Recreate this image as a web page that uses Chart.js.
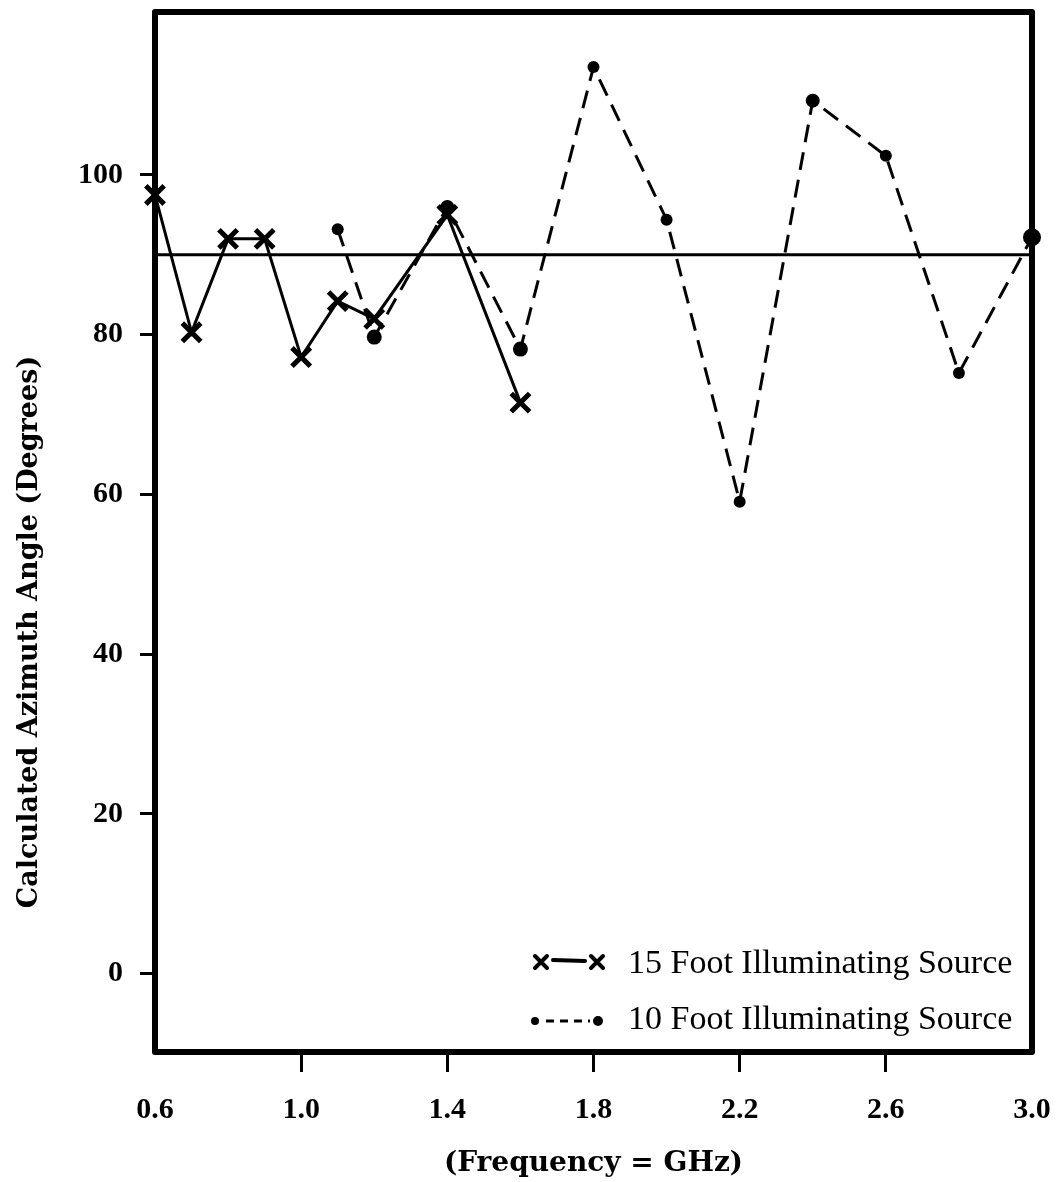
<!DOCTYPE html>
<html>
<head>
<meta charset="utf-8">
<script src="https://cdn.jsdelivr.net/npm/chart.js@4.4.0/dist/chart.umd.min.js"></script>
<style>
  html, body { margin: 0; padding: 0; background: #fff; }
  #wrap { width: 1057px; height: 1182px; }
</style>
</head>
<body>
<div id="wrap"><canvas id="chartLine" width="1057" height="1182"></canvas></div>
<script>
// frequency (GHz) and calculated azimuth angle (degrees)
const freq15 = [0.6, 0.7, 0.8, 0.9, 1.0, 1.1, 1.2, 1.4, 1.6];
const angle15 = [97.5, 80.3, 92, 92, 77.2, 84.2, 82, 95, 71.5];
const freq10 = [1.1, 1.2, 1.4, 1.6, 1.8, 2.0, 2.2, 2.4, 2.6, 2.8, 3.0];
const angle10 = [93.2, 79.7, 96, 78.2, 113.5, 94.4, 59.1, 109.3, 102.4, 75.2, 92.2];
const trueAngle = 90;
const xTicks = [0.6, 1.0, 1.4, 1.8, 2.2, 2.6, 3.0];
const yTicks = [0, 20, 40, 60, 80, 100];
const seriesNames = ['15 Foot Illuminating Source', '10 Foot Illuminating Source'];
const yTitle = 'Calculated Azimuth Angle (Degrees)';
const xTitle = '(Frequency = GHz)';

// hand drawn dots are not all the same size
const dotSize = [6, 7.5, 7, 7.5, 6, 6, 6, 7, 6, 6, 9];

const toPts = (xs, ys) => xs.map((x, i) => ({ x: x, y: ys[i] }));

const framePlugin = {
    id: 'frame',
    beforeDatasetsDraw(chart) {
        const a = chart.chartArea;
        const ctx = chart.ctx;
        ctx.save();
        ctx.strokeStyle = '#000';
        ctx.lineWidth = 6;
        ctx.lineJoin = 'round';
        ctx.strokeRect(a.left, a.top, a.right - a.left, a.bottom - a.top);
        ctx.restore();
    },
    afterDraw(chart) {
        const ctx = chart.ctx;
        ctx.save();
        ctx.fillStyle = '#000';
        ctx.strokeStyle = '#000';

        // y axis title
        ctx.save();
        ctx.translate(30, 632);
        ctx.rotate(-Math.PI / 2);
        ctx.font = 'bold 27px "DejaVu Serif"';
        ctx.textAlign = 'center';
        ctx.textBaseline = 'middle';
        ctx.fillText(yTitle, 0, 0);
        ctx.restore();

        // legend, bottom right inside the frame
        const drawX = (x, y) => {
            ctx.beginPath();
            ctx.moveTo(x - 6, y - 6); ctx.lineTo(x + 6, y + 6);
            ctx.moveTo(x - 6, y + 6); ctx.lineTo(x + 6, y - 6);
            ctx.stroke();
        };
        ctx.lineWidth = 4;
        ctx.lineCap = 'round';
        drawX(541, 962);
        drawX(597, 962);
        ctx.beginPath();
        ctx.moveTo(553, 960); ctx.lineTo(585, 961);
        ctx.stroke();

        ctx.beginPath(); ctx.arc(535, 1021, 4, 0, Math.PI * 2); ctx.fill();
        ctx.beginPath(); ctx.arc(598, 1021, 5, 0, Math.PI * 2); ctx.fill();
        ctx.lineWidth = 3;
        ctx.lineCap = 'butt';
        ctx.setLineDash([8, 6]);
        ctx.beginPath();
        ctx.moveTo(546, 1021); ctx.lineTo(590, 1021);
        ctx.stroke();
        ctx.setLineDash([]);

        ctx.font = '34px "Liberation Serif"';
        ctx.textAlign = 'left';
        ctx.textBaseline = 'middle';
        ctx.fillText(seriesNames[0], 628, 964);
        ctx.fillText(seriesNames[1], 628, 1020);
        ctx.restore();
    }
};

const ctx = document.getElementById('chartLine').getContext('2d');
const chart = new Chart(ctx, {
    type: 'scatter',
    data: {
        datasets: [{
            label: seriesNames[0],
            data: toPts(freq15, angle15),
            showLine: true,
            borderColor: '#000',
            borderWidth: 3,
            pointStyle: 'crossRot',
            pointRadius: 13,
            pointBorderWidth: 5,
            pointBorderColor: '#000',
            clip: false
        }, {
            label: seriesNames[1],
            data: toPts(freq10, angle10),
            showLine: true,
            borderColor: '#000',
            borderWidth: 3,
            borderDash: [18, 10],
            pointStyle: 'circle',
            pointRadius: dotSize,
            pointBackgroundColor: '#000',
            pointBorderWidth: 0,
            clip: false
        }, {
            label: 'true azimuth',
            data: [{ x: xTicks[0], y: trueAngle }, { x: xTicks[xTicks.length - 1], y: trueAngle }],
            showLine: true,
            borderColor: '#000',
            borderWidth: 3,
            pointRadius: 0
        }]
    },
    options: {
        responsive: false,
        animation: false,
        layout: { autoPadding: false, padding: { top: 12, right: 25, left: 0, bottom: 0 } },
        plugins: {
            legend: { display: false },
            tooltip: { enabled: false }
        },
        scales: {
            x: {
                type: 'linear',
                min: 0.6,
                max: 3.0,
                afterBuildTicks: (s) => { s.ticks = xTicks.map(v => ({ value: v })); },
                afterFit: (s) => { s.height = 130; s.paddingLeft = 0; s.paddingRight = 0; },
                border: { display: false },
                grid: {
                    drawOnChartArea: false,
                    tickLength: 20,
                    tickWidth: 3,
                    tickColor: (c) => (c.index === 0 || c.index === xTicks.length - 1) ? 'rgba(0,0,0,0)' : '#000'
                },
                ticks: {
                    color: '#000',
                    padding: 20,
                    maxRotation: 0,
                    font: { family: 'Liberation Serif', size: 30, weight: 'bold' },
                    callback: (v) => Number(v).toFixed(1)
                },
                title: {
                    display: true,
                    text: xTitle,
                    color: '#000',
                    padding: { top: 0, bottom: 1 },
                    font: { family: 'DejaVu Serif', size: 28, weight: 'bold' }
                }
            },
            y: {
                min: -9.8,
                max: 120.4,
                afterBuildTicks: (s) => { s.ticks = yTicks.map(v => ({ value: v })); },
                afterFit: (s) => { s.width = 155; s.paddingTop = 0; s.paddingBottom = 0; },
                border: { display: false },
                grid: {
                    drawOnChartArea: false,
                    tickLength: 15,
                    tickWidth: 3,
                    tickColor: '#000'
                },
                ticks: {
                    color: '#000',
                    padding: 17,
                    font: { family: 'Liberation Serif', size: 30, weight: 'bold' }
                }
            }
        }
    },
    plugins: [framePlugin]
});
</script>
</body>
</html>
